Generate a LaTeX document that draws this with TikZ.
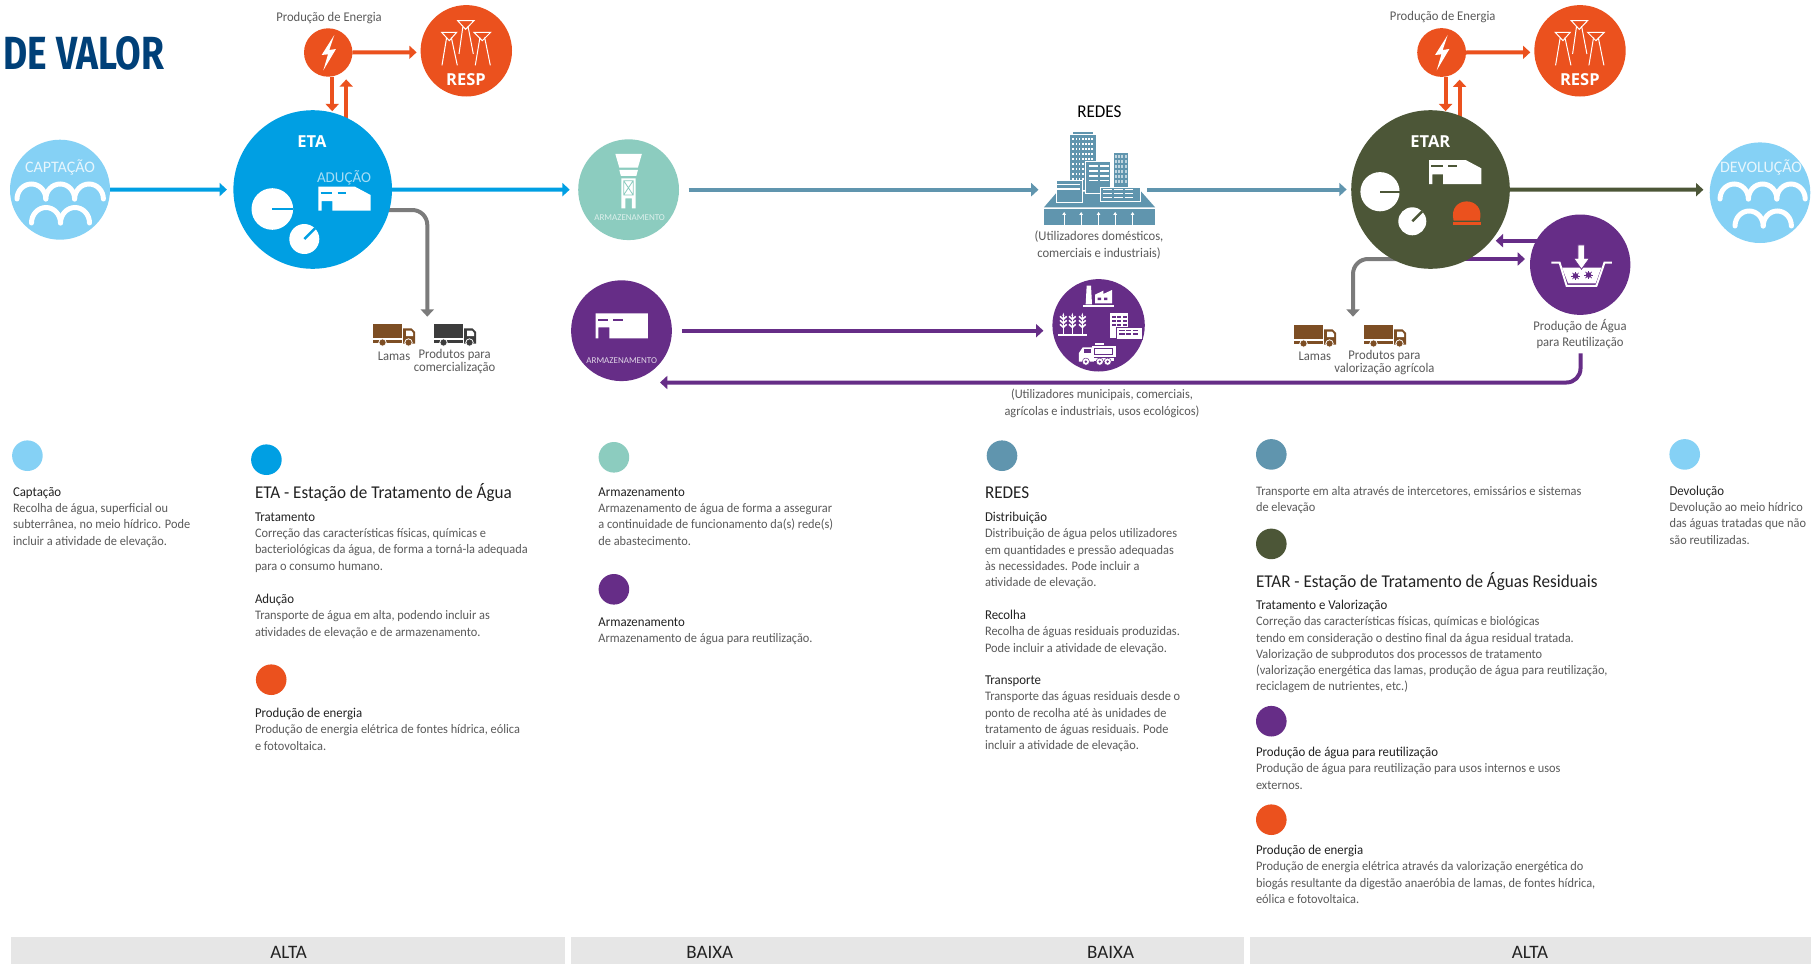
\documentclass[tikz,border=0pt]{standalone}
\usepackage{fontspec}
\usepackage{graphicx}
\setmainfont[FakeStretch=0.95]{Carlito}
\newfontfamily\plainfont{Carlito}
\newfontfamily\iconfont{Open Sans}
\newfontfamily\titlefont{Fira Sans}
\usetikzlibrary{arrows.meta,backgrounds,calc}
\definecolor{capB}{HTML}{85D1F5}
\definecolor{etaB}{HTML}{009FE3}
\definecolor{tealC}{HTML}{8CCCBF}
\definecolor{redeC}{HTML}{6095AE}
\definecolor{purpC}{HTML}{662D87}
\definecolor{oranC}{HTML}{EB511E}
\definecolor{greenC}{HTML}{4C5637}
\definecolor{grayC}{HTML}{7B7B7B}
\definecolor{barC}{HTML}{E6E6E6}
\definecolor{bodyC}{HTML}{5A5A5A}
\definecolor{headC}{HTML}{222222}
\definecolor{brownC}{HTML}{7D4E24}
\definecolor{darkC}{HTML}{3C3C3C}
\definecolor{titleC}{HTML}{004078}
\newcommand{\hd}[1]{\strut\textcolor{headC}{\fontsize{13.5}{16.3}\selectfont #1}}
\newcommand{\archrow}[5]{\foreach \i in {1,...,#5}{\draw[white,line width=5pt,line cap=round] ({#1+(\i-1)*#3},#2) arc[start angle=180,end angle=0,x radius={#3*0.5pt},y radius=#4pt];}}
\newcommand{\truckicon}[3]{\begin{scope}[shift={(#1,#2)}]
\fill[#3] (0,0) rectangle (28.7,14.3);
\fill[#3] (0,16) rectangle (29,18.7);
\fill[#3] (30,4.3) -- (38.5,4.3) -- (42,8) -- (42,19.5) -- (30,19.5) -- cycle;
\fill[white] (33,6.5) -- (38,6.5) -- (40,9) -- (40,12) -- (33,12) -- cycle;
\foreach \wx in {9.5,35.5}{\fill[#3,draw=white,line width=.8pt] (\wx,18.5) circle[radius=3.7pt];}
\end{scope}}
\newcommand{\pylons}[1]{\begin{scope}[shift={(200+#1,0)},x=.3333pt,y=-.3333pt,white,line width=1pt]
\draw (725,97) -- (770,97) -- (748,122) -- cycle (740,112) -- (726,196) (754,112) -- (772,196);
\draw (773,62) -- (822,62) -- (797,88) -- cycle (789,78) -- (777,162) (804,78) -- (820,162);
\draw (822,97) -- (872,97) -- (847,122) -- cycle (840,112) -- (826,196) (854,112) -- (871,196);
\end{scope}}
\newcommand{\boltshape}[1]{\fill[white,shift={(200+#1,0)},x=.3333pt,y=-.3333pt] (403,105) -- (365,165) -- (384,163) -- (370,211) -- (408,147) -- (388,150) -- cycle;}
\newcommand{\shedicon}[3]{\begin{scope}[shift={(#1,#2)},x=.3333pt,y=-.3333pt]
\fill[white] (0,0) -- (110,0) -- (157,25) -- (157,72) -- (42,72) -- (42,43) -- (10,43) -- (10,72) -- (0,72) -- cycle;
\draw[#3,line width=1.6pt] (7,18) -- (42,18) (58,18) -- (83,18);
\end{scope}}
\newcommand{\gauge}[5]{\fill[white] (#1,#2) circle[radius=#3pt];\draw[#4,line width=2.4pt] (#1,#2) -- ++(#5:{#3*1.0pt});}
\tikzset{
disc/.style={circle,inner sep=0pt,outer sep=0pt,minimum size=#1},
dotmark/.style={circle,inner sep=0pt,outer sep=0pt,minimum size=30.6pt},
flow/.style={line width=4pt,-{Triangle[length=7.3pt,width=13pt]}},
lbl/.style={inner sep=0pt,outer sep=0pt,font=\fontsize{13.3}{16.3}\selectfont,text=bodyC,align=center},
tiny/.style={inner sep=0pt,outer sep=0pt,font=\plainfont\fontsize{9}{10}\selectfont},
iconbold/.style={inner sep=0pt,outer sep=0pt,text=white,font=\iconfont\bfseries\fontsize{16.5}{18}\selectfont},
plainlbl/.style={inner sep=0pt,outer sep=0pt,font=\plainfont\fontsize{#1}{18}\selectfont},
para/.style={anchor=north west,inner sep=0pt,outer sep=0pt,font=\fontsize{13}{16.3}\selectfont,text=bodyC,align=left},
big/.style={anchor=west,inner sep=0pt,outer sep=0pt,font=\fontsize{18}{20}\selectfont,text=headC},
barbox/.style={fill=barC,draw=none},
barlbl/.style={inner sep=0pt,font=\plainfont\fontsize{19}{20}\selectfont,text=headC}
}
\begin{document}
\begin{tikzpicture}[x=1pt,y=-1pt]
\useasboundingbox (0,0) rectangle (1814,964);
% title
\node[inner sep=0pt,text=titleC] (title) at (84,53.5) {\resizebox{161pt}{33pt}{\titlefont\bfseries DE VALOR}};
% main nodes
\node[disc=100pt,fill=capB] (capt) at (60,189.7) {};
\node[disc=158.6pt,fill=etaB] (eta) at (312.7,189.5) {};
\node[disc=48.4pt,fill=oranC] (enA) at (328.2,52.5) {};
\node[disc=91.4pt,fill=oranC] (respA) at (466.3,50.8) {};
\node[disc=100.8pt,fill=tealC] (armT) at (628.6,189.7) {};
\node[disc=100.8pt,fill=purpC] (armP) at (621.5,330.7) {};
\node[disc=92.4pt,fill=purpC] (uses) at (1098.6,325.3) {};
\node[inner sep=0pt,outer sep=0pt,minimum width=111pt,minimum height=95pt] (redes) at (1099.5,178) {};
\node[disc=158.6pt,fill=greenC] (etar) at (1430.5,189.5) {};
\node[disc=48.8pt,fill=oranC] (enB) at (1441.6,52.5) {};
\node[disc=91.4pt,fill=oranC] (respB) at (1580,50.8) {};
\node[disc=100.4pt,fill=purpC] (reuse) at (1580.2,264.7) {};
\node[disc=100.6pt,fill=capB] (devol) at (1760,192.7) {};
% free ends
\coordinate (sinkA) at (427.3,316.7);
\coordinate (sinkB) at (1353,316.7);
\coordinate (retEnd) at (660,382.5);
\coordinate (retStart) at (1580.5,353.3);
\begin{pgfonlayer}{background}
\fill[white] (0,0) rectangle (1814,964);
\draw[flow,etaB,shorten >=6.5pt] (capt) -- (eta);
\draw[flow,etaB,shorten >=8.5pt] (eta) -- (armT);
\draw[flow,grayC,rounded corners=15pt] ([yshift=-20.5pt]eta.center) -| (sinkA);
\draw[flow,redeC,shorten <=9.5pt,shorten >=5.5pt] (armT.east) -- (redes.west |- armT.east);
\draw[flow,redeC,shorten <=-8pt,shorten >=4.6pt] (redes.east |- etar.west) -- (etar.west);
\draw[flow,greenC] (etar.center) -- ([xshift=-6.3pt,yshift=3pt]devol.west);
\draw[flow,purpC,shorten <=10pt,shorten >=9pt] (armP.east) -- (uses.west |- armP.east);
\draw[flow,oranC] (enA.east) -- ([xshift=-4pt,yshift=-1.5pt]respA.west);
\draw[flow,oranC] (enB.east) -- ([xshift=-4pt,yshift=-1.5pt]respB.west);
\draw[flow,oranC] ([xshift=4pt]enA.south) -- ([xshift=4pt,yshift=-1pt]enA.south |- eta.north);
\draw[flow,oranC] ([xshift=18pt,yshift=-40pt]eta.north -| enA.south) -- ([xshift=18pt,yshift=-2.7pt]enA.south);
\draw[flow,oranC] ([xshift=4pt]enB.south) -- ([xshift=4pt,yshift=-1pt]enB.south |- etar.north);
\draw[flow,oranC] ([xshift=18pt,yshift=-40pt]etar.north -| enB.south) -- ([xshift=18pt,yshift=-2.7pt]enB.south);
\draw[flow,grayC,rounded corners=15pt] ([yshift=-69.5pt]etar.center) -| (sinkB);
\draw[flow,purpC] ([yshift=-69.5pt]etar.center) -- ([xshift=-5pt,yshift=5.7pt]reuse.west);
\draw[flow,purpC] ([yshift=24pt]reuse.center) -- ([xshift=65.2pt,yshift=-51.2pt]etar.center);
\draw[flow,purpC,rounded corners=14pt] (retStart) |- (retEnd);
\end{pgfonlayer}
% water arches
\archrow{17}{199}{28.8}{15}{3}
\archrow{31.5}{223}{29}{15.5}{2}
\archrow{1720}{199}{28.4}{15}{3}
\archrow{1735}{226}{28.2}{15}{2}
\node[plainlbl=16,text=white!80!capB] (captT) at (60,167.3) {CAPTAÇÃO};
\node[plainlbl=16,text=white!80!capB] (devT) at (1761,167.3) {DEVOLUÇÃO};
% ETA
\node[iconbold] (etaT) at (312,142) {ETA};
\node[plainlbl=15,text=white!65!etaB] (adT) at (344,177.3) {ADUÇÃO};
\shedicon{318.3}{186.7}{etaB}
\gauge{272.3}{209}{20.8}{etaB}{0}
\gauge{304.3}{239}{15}{etaB}{45}
% ETAR
\node[iconbold] (etarT) at (1430.3,142) {ETAR};
\shedicon{1429}{160}{greenC}
\gauge{1380}{191.7}{19.6}{greenC}{0}
\gauge{1412.3}{221.3}{14}{greenC}{45}
\begin{scope}[shift={(1260,0)},x=.3533pt,y=-.3333pt]
\fill[oranC] (548,662) .. controls (530,585) and (640,585) .. (622,662) -- cycle;
\fill[oranC] (546,665) rectangle (625,675);
% water reuse icon
\draw[white,line width=2pt] (825,788) -- (848,788) -- (868,858) -- (952,858) -- (975,788) -- (996,788);
\fill[white] (855,803) -- (966,803) -- (950,850) -- (872,850) -- cycle;
\fill[white,draw=purpC,line width=.7pt] (900,735) -- (918,735) -- (918,775) -- (932,775) -- (910,808) -- (888,775) -- (900,775) -- cycle;
\foreach \bx/\by in {893/828,930/825}{
\fill[purpC] (\bx,\by) circle[radius=2.8pt];
\foreach \a in {0,45,...,315}{\draw[purpC,line width=.7pt] (\bx,\by) -- ++(\a:4.4pt);}}
\end{scope}
% RESP
\pylons{0}
\pylons{1113.6}
\node[iconbold] (respAT) at (466,80) {RESP};
\node[iconbold] (respBT) at (1579.8,79.5) {RESP};
\boltshape{0}
\boltshape{1113.4}
% teal tower
\begin{scope}[shift={(560,90)},x=.3954pt,y=-.3333pt]
\fill[white] (140,192) -- (207,192) -- (197,233) -- (150,233) -- cycle;
\fill[white] (150,240) -- (197,240) -- (193,258) -- (154,258) -- cycle;
\fill[white] (155,265) -- (191,265) -- (191,355) -- (182,355) -- (182,325) -- (165,325) -- (165,355) -- (155,355) -- cycle;
\draw[tealC,line width=.8pt] (161,272) rectangle (185,315) (161,272) -- (185,315) (185,272) -- (161,315);
\end{scope}
\node[tiny,text=white!70!tealC] (armTT) at (629.6,217.3) {ARMAZENAMENTO};
% purple store
\begin{scope}[shift={(560,90)},x=.3954pt,y=-.3333pt]
\fill[white] (90,670) -- (222,670) -- (222,745) -- (125,745) -- (125,712) -- (97,712) -- (97,745) -- (90,745) -- cycle;
\draw[purpC,line width=1.6pt] (97,690) -- (122,690) (135,690) -- (160,690);
\end{scope}
\node[tiny,text=white!80!purpC] (armPT) at (621.7,360.3) {ARMAZENAMENTO};
% city icon
\begin{scope}[shift={(560,90)},x=.3954pt,y=-.3333pt]
\fill[redeC] (1224,358) rectangle (1505,405);
\fill[redeC] (1224,352) -- (1258,305) -- (1470,305) -- (1505,352) -- cycle;
\fill[redeC] (1290,135) rectangle (1356,300);
\fill[redeC] (1297,126) rectangle (1348,132);
\foreach \wy in {145,160,175,190,205,220,235,250,265}{\foreach \wx in {1296,1304,...,1344}{\fill[white] (\wx,\wy) rectangle ++(4,5);}}
\fill[redeC] (1400,190) rectangle (1436,295);
\foreach \wy in {196,211,226,241,256,271}{\foreach \wx in {1404,1412,1420,1428}{\fill[white!60!redeC] (\wx,\wy) rectangle ++(5,9);}}
\fill[redeC,draw=white,line width=.8pt] (1330,215) rectangle (1393,310);
\foreach \wy in {228,243,258,272}{\draw[white,line width=1.2pt] (1338,\wy) -- (1360,\wy) (1366,\wy) -- (1388,\wy);}
\fill[redeC,draw=white,line width=.8pt] (1255,270) rectangle (1320,337);
\draw[white,line width=1.2pt] (1258,283) -- (1316,283) (1258,297) -- (1316,297);
\fill[redeC,draw=white,line width=.8pt] (1367,291) rectangle (1468,334);
\foreach \wy in {299,311,323}{\draw[white,line width=1.2pt] (1373,\wy) -- (1396,\wy) (1401,\wy) -- (1424,\wy) (1428,\wy) -- (1448,\wy);}
\foreach \ax in {1275,1318,1362,1404,1448}{\draw[white,line width=.9pt,-{Triangle[length=3pt,width=3.6pt]}] (\ax,405) -- (\ax,366);}
\end{scope}
% multi-use icon
\begin{scope}[shift={(1040,270)},x=.3333pt,y=-.3333pt]
\fill[white] (140,47) -- (153,47) -- (156,103) -- (137,103) -- cycle;
\fill[white] (165,100) -- (165,74) -- (190,62) -- (190,72) -- (216,60) -- (216,100) -- cycle;
\fill[purpC] (173,83) rectangle (183,90) (192,83) rectangle (202,90);
\fill[white] (130,105) rectangle (222,110);
\foreach \sx in {70,97,127}{
\draw[white,line width=1.4pt] (\sx,135) -- (\sx,192);
\foreach \sy in {145,157,169}{\draw[white,line width=1.6pt] (\sx-10,\sy-6) -- (\sx,\sy+3) (\sx+10,\sy-6) -- (\sx,\sy+3);}
\fill[white] (\sx,128) -- (\sx+3,138) -- (\sx-3,138) -- cycle;}
\fill[white] (55,193) rectangle (142,198);
\fill[white] (209,129) rectangle (263,205);
\foreach \wy in {138,150,162}{\foreach \wx in {215,232,248}{\fill[purpC] (\wx,\wy) rectangle ++(12,5);}}
\fill[white,draw=purpC,line width=.7pt] (230,172) rectangle (308,207);
\foreach \wy in {180,190}{\foreach \wx in {238,258,278}{\fill[purpC] (\wx,\wy) rectangle ++(16,4);}}
\end{scope}
\begin{scope}[shift={(560,90)},x=.3954pt,y=-.3333pt]
\fill[white] (1345,768) rectangle (1405,800);
\fill[white] (1352,760) rectangle (1376,766);
\draw[purpC,line width=.6pt] (1352,775) rectangle (1398,793);
\fill[white] (1312,815) -- (1312,790) -- (1322,772) -- (1350,772) -- (1350,815) -- cycle;
\fill[purpC] (1324,778) rectangle (1343,790);
\fill[white] (1312,803) rectangle (1402,812);
\foreach \wx in {1330,1365,1385}{\fill[white,draw=purpC,line width=.5pt] (\wx,815) circle[radius=3.6pt];\fill[purpC] (\wx,815) circle[radius=1.3pt];}
\end{scope}
% trucks
\truckicon{373}{324}{brownC}
\truckicon{434}{324}{darkC}
\truckicon{1294}{325}{brownC}
\truckicon{1364}{325}{brownC}
% labels
\node[lbl] (enAT) at (329,18) {Produção de Energia};
\node[lbl] (enBT) at (1442.7,17) {Produção de Energia};
\node[lbl] (lamA) at (394,356) {Lamas};
\node[lbl,font=\fontsize{13.3}{10.5}\selectfont] (prodA) at (454.6,361.5) {Produtos para\\comercialização};
\node[lbl] (lamB) at (1314.8,356) {Lamas};
\node[lbl,font=\fontsize{13.3}{10.5}\selectfont] (prodB) at (1384.4,362.5) {Produtos para\\valorização agrícola};
\node[lbl] (reuseT) at (1580,334) {Produção de Água\\para Reutilização};
\node[inner sep=0pt,font=\fontsize{18}{20}\selectfont,text=black] (redesT) at (1099.4,111.7) {REDES};
\node[lbl] (redesU) at (1099,245) {(Utilizadores domésticos,\\comerciais e industriais)};
\node[lbl,font=\fontsize{13}{16.3}\selectfont] (usesU) at (1102,403.5) {(Utilizadores municipais, comerciais,\\agrícolas e industriais, usos ecológicos)};
% legend dots
\node[dotmark,fill=capB] (d1) at (27.4,455.7) {};
\node[dotmark,fill=etaB] (d2) at (266.4,459.7) {};
\node[dotmark,fill=oranC] (d3) at (271.2,679.7) {};
\node[dotmark,fill=tealC] (d4) at (613.9,457.3) {};
\node[dotmark,fill=purpC] (d5) at (613.9,589.3) {};
\node[dotmark,fill=redeC] (d6) at (1002,455.7) {};
\node[dotmark,fill=redeC] (d7) at (1271.3,454.4) {};
\node[dotmark,fill=greenC] (d8) at (1271.3,543.9) {};
\node[dotmark,fill=purpC] (d9) at (1271.3,721.2) {};
\node[dotmark,fill=oranC] (d10) at (1271.3,819.7) {};
\node[dotmark,fill=capB] (d11) at (1684.7,454.4) {};
% legend text
\node[para] (t1) at (13,484.7) {\hd{Captação}\\Recolha de água, superficial ou\\subterrânea, no meio hídrico. Pode\\incluir a atividade de elevação.};
\node[big] (t2) at (255,492.7) {ETA - Estação de Tratamento de Água};
\node[para] (t3) at (255,509.7) {\hd{Tratamento}\\Correção das características físicas, químicas e\\bacteriológicas da água, de forma a torná-la adequada\\para o consumo humano.};
\node[para] (t4) at (255,592) {\hd{Adução}\\Transporte de água em alta, podendo incluir as\\atividades de elevação e de armazenamento.};
\node[para] (t5) at (255,706) {\hd{Produção de energia}\\Produção de energia elétrica de fontes hídrica, eólica\\e fotovoltaica.};
\node[para] (t6) at (598.4,484.7) {\hd{Armazenamento}\\Armazenamento de água de forma a assegurar\\a continuidade de funcionamento da(s) rede(s)\\de abastecimento.};
\node[para] (t7) at (598.4,615) {\hd{Armazenamento}\\Armazenamento de água para reutilização.};
\node[big] (t8) at (985,492.7) {REDES};
\node[para] (t9) at (985,510) {\hd{Distribuição}\\Distribuição de água pelos utilizadores\\em quantidades e pressão adequadas\\às necessidades. Pode incluir a\\atividade de elevação.};
\node[para] (t10) at (985,608) {\hd{Recolha}\\Recolha de águas residuais produzidas.\\Pode incluir a atividade de elevação.};
\node[para] (t11) at (985,673) {\hd{Transporte}\\Transporte das águas residuais desde o\\ponto de recolha até às unidades de\\tratamento de águas residuais. Pode\\incluir a atividade de elevação.};
\node[para] (t12) at (1256,483.8) {\strut Transporte em alta através de intercetores, emissários e sistemas\\de elevação};
\node[big] (t13) at (1256,581.7) {ETAR - Estação de Tratamento de Águas Residuais};
\node[para] (t14) at (1256,598) {\hd{Tratamento e Valorização}\\Correção das características físicas, químicas e biológicas\\tendo em consideração o destino final da água residual tratada.\\Valorização de subprodutos dos processos de tratamento\\(valorização energética das lamas, produção de água para reutilização,\\reciclagem de nutrientes, etc.)};
\node[para] (t15) at (1256,745) {\hd{Produção de água para reutilização}\\Produção de água para reutilização para usos internos e usos\\externos.};
\node[para] (t16) at (1256,843) {\hd{Produção de energia}\\Produção de energia elétrica através da valorização energética do\\biogás resultante da digestão anaeróbia de lamas, de fontes hídrica,\\eólica e fotovoltaica.};
\node[para] (t17) at (1669.5,483.8) {\hd{Devolução}\\Devolução ao meio hídrico\\das águas tratadas que não\\são reutilizadas.};
% bottom bars
\path[barbox] (11,937) rectangle (564.7,964);
\path[barbox] (571,937) rectangle (1244,964);
\path[barbox] (1250,937) rectangle (1811,964);
\node[barlbl] (b1) at (288.6,952) {ALTA};
\node[barlbl] (b2) at (709.8,952) {BAIXA};
\node[barlbl] (b3) at (1110.6,952) {BAIXA};
\node[barlbl] (b4) at (1530,952) {ALTA};
\end{tikzpicture}
\end{document}
